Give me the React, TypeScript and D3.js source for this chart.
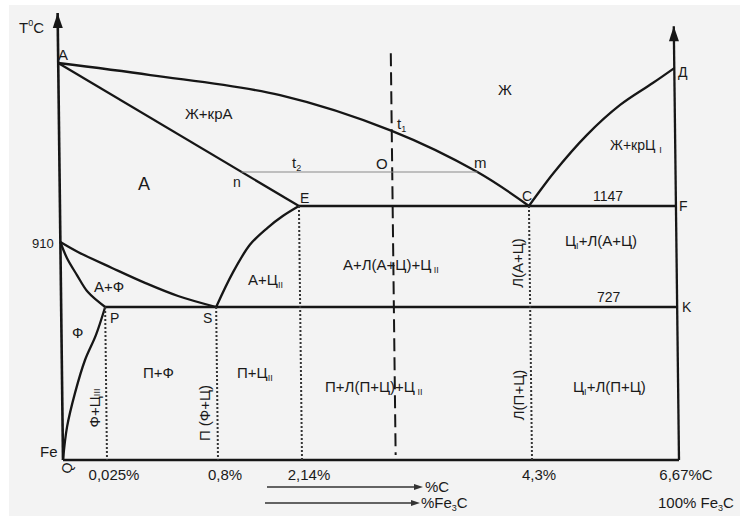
import React from 'react';
import * as d3 from 'd3';

type Pt = [number, number]; // [% C, T °C]

// the concentration axis of this schematic is not linear, so it is split at the key compositions
const carbonKnots = [0, 0.025, 0.8, 2.14, 4.3, 6.67];
const tempKnots = [20, 727, 910, 1147, 1539];

const carbonTicks = [0.025, 0.8, 2.14, 4.3, 6.67];
const carbonTickLabels = ['0,025%', '0,8%', '2,14%', '4,3%', '6,67%C'];

// lines of the diagram
const liquidusAC: Pt[] = [[0, 1539], [0.36, 1506], [1.86, 1451], [3.02, 1353], [3.82, 1240], [4.3, 1147]];
const liquidusDC: Pt[] = [[6.67, 1525], [6.32, 1484], [5.79, 1424], [5.25, 1342], [4.7, 1237], [4.43, 1177], [4.3, 1147]];
const solidusAE: Pt[] = [[0, 1539], [2.14, 1147]];
const solvusES: Pt[] = [[2.14, 1147], [1.88, 1081], [1.63, 1002], [1.35, 902], [1.07, 823], [0.8, 727]];
const lineGS: Pt[] = [[0, 910], [0.0099, 882], [0.076, 837], [0.305, 795], [0.535, 758], [0.8, 727]];
const lineGP: Pt[] = [[0, 910], [0.0036, 865], [0.0092, 817], [0.0153, 769], [0.025, 727]];
const linePQ: Pt[] = [[0.025, 727], [0.0196, 598], [0.0132, 482], [0.0073, 330], [0.0025, 172], [0, 20]];
const eutecticECF: Pt[] = [[2.14, 1147], [6.67, 1147]];
const eutectoidPSK: Pt[] = [[0.025, 727], [6.67, 727]];
const dottedLines: Pt[][] = [
    [[0.025, 727], [0.025, 20]],
    [[0.8, 727], [0.8, 20]],
    [[2.14, 1147], [2.14, 20]],
    [[4.3, 1147], [4.3, 20]],
];
const alloy1: Pt[] = [[3.02, 1566], [3.02, 43]];
const tieLineT2: Pt[] = [[1.23, 1240], [3.82, 1240]];

const roomT = 20;
const leftAxisTop = 1676;
const rightAxisTop = 1640;
const maxCarbon = 6.67;

const font = 'Liberation Sans, Arial, sans-serif';
const ink = '#161616';

const Sub: React.FC<{ children: React.ReactNode }> = ({ children }) => (
    <tspan fontSize={9} dy={3}>{children}</tspan>
);

const App: React.FC = () => {
    const x = d3.scaleLinear().domain(carbonKnots).range([63, 107, 218, 302, 532, 679]);
    const y = d3.scaleLinear().domain(tempKnots).range([460, 307, 242, 206, 63]);
    const curve = d3.line<Pt>(d => x(d[0]), d => y(d[1])).curve(d3.curveCatmullRom.alpha(0.5));
    const straight = d3.line<Pt>(d => x(d[0]), d => y(d[1]));

    const arrowHead = (cx: number, cy: number) => `M${cx},${cy} L${cx - 5},${cy + 15} L${cx + 5},${cy + 15} Z`;
    const base = y(roomT);

    return (
        <svg width={740} height={516} style={{ position: 'absolute', left: 0, top: 0 }} fontFamily={font}>
            <rect width={740} height={516} fill="#fff" />
            <rect x={9} y={5} width={731} height={511} fill="#f3f3f3" />

            {/* the scan is slightly sheared, so the whole diagram leans a little */}
            <g transform={`translate(0,${base}) skewX(0.69) translate(0,${-base})`}>
                <g fill="none" stroke={ink} strokeWidth={2.3} strokeLinejoin="round">
                    <path d={straight([[0, roomT], [0, leftAxisTop]]) ?? ''} strokeWidth={2.6} />
                    <path d={straight([[maxCarbon, roomT], [maxCarbon, rightAxisTop]]) ?? ''} />
                    <path d={straight([[0, roomT], [maxCarbon, roomT]]) ?? ''} strokeWidth={2.6} />
                    <path d={curve(liquidusAC) ?? ''} />
                    <path d={curve(liquidusDC) ?? ''} />
                    <path d={straight(solidusAE) ?? ''} />
                    <path d={curve(solvusES) ?? ''} />
                    <path d={curve(lineGS) ?? ''} />
                    <path d={curve(lineGP) ?? ''} />
                    <path d={curve(linePQ) ?? ''} />
                    <path d={straight(eutecticECF) ?? ''} />
                    <path d={straight(eutectoidPSK) ?? ''} />
                </g>
                <g fill="none" stroke="#333" strokeWidth={2} strokeDasharray="2 2">
                    {dottedLines.map((l, i) => <path key={i} d={straight(l) ?? ''} />)}
                </g>
                <path d={straight(alloy1) ?? ''} fill="none" stroke={ink} strokeWidth={2} strokeDasharray="13 6" />
                <path d={straight(tieLineT2) ?? ''} fill="none" stroke="#8a8a8a" strokeWidth={1} />
                <path d={arrowHead(x(0), y(leftAxisTop))} fill={ink} />
                <path d={arrowHead(x(maxCarbon), y(rightAxisTop))} fill={ink} />
            </g>

            <g fill="#1a1a1a" fontSize={15}>
                <text x={19} y={33}>T<tspan fontSize={9} dy={-7}>0</tspan><tspan dy={7}>C</tspan></text>
                <text x={58} y={60} fontSize={15}>A</text>
                <text x={185} y={119}>Ж+крА</text>
                <text x={498} y={95}>Ж</text>
                <text x={397} y={129}>t<Sub>1</Sub></text>
                <text x={376} y={169}>O</text>
                <text x={474} y={168}>m</text>
                <text x={292} y={168}>t<Sub>2</Sub></text>
                <text x={233} y={187} fontSize={14}>n</text>
                <text x={300} y={203} fontSize={14}>E</text>
                <text x={138} y={190} fontSize={18}>A</text>
                <text x={522} y={201} fontSize={14}>C</text>
                <text x={593} y={201} fontSize={14}>1147</text>
                <text x={679} y={211} fontSize={14}>F</text>
                <text x={678} y={77} fontSize={14}>Д</text>
                <text x={610} y={150} fontSize={14}>Ж+крЦ <Sub>I</Sub></text>
                <text x={32} y={248} fontSize={13}>910</text>
                <text x={94} y={292}>A+Ф</text>
                <text x={248} y={285}>A+Ц<Sub>II</Sub></text>
                <text x={343} y={270}>A+Л(A+Ц)+Ц<Sub> II</Sub></text>
                <text x={565} y={246}>Ц<Sub>I</Sub><tspan dy={-3}>+Л(A+Ц)</tspan></text>
                <text x={597} y={302} fontSize={14}>727</text>
                <text x={682} y={312} fontSize={14}>K</text>
                <text x={72} y={338}>Ф</text>
                <text x={110} y={323} fontSize={14}>P</text>
                <text x={203} y={323} fontSize={14}>S</text>
                <text x={143} y={378}>П+Ф</text>
                <text x={237} y={378}>П+Ц<Sub>II</Sub></text>
                <text x={325} y={392}>П+Л(П+Ц)+Ц<Sub> II</Sub></text>
                <text x={573} y={392}>Ц<Sub>I</Sub><tspan dy={-3}>+Л(П+Ц)</tspan></text>
                <text x={40} y={457}>Fe</text>

                <g textAnchor="middle" dominantBaseline="central">
                    <text transform="translate(517,263) rotate(-90)">Л(A+Ц)</text>
                    <text transform="translate(518,395) rotate(-90)">Л(П+Ц)</text>
                    <text transform="translate(94,408) rotate(-90)">Ф+Ц<Sub>III</Sub></text>
                    <text transform="translate(204,413) rotate(-90)">П (Ф+Ц)</text>
                    <text transform="translate(67,468) rotate(-70)" fontSize={14}>Q</text>
                </g>

                {carbonTicks.map((c, i) => (
                    <text key={c} x={x(c) + 7} y={480} textAnchor="middle">{carbonTickLabels[i]}</text>
                ))}

                <text x={425} y={492}>%C</text>
                <text x={421} y={508}>%Fe<Sub>3</Sub><tspan dy={-3}>C</tspan></text>
                <text x={658} y={508}>100% Fe<Sub>3</Sub><tspan dy={-3}>C</tspan></text>
            </g>

            <g stroke="#333" strokeWidth={1.5}>
                <line x1={267} y1={487} x2={416} y2={487} />
                <line x1={265} y1={503} x2={413} y2={503} />
            </g>
            <g fill="#333">
                <path d="M423,487 L414,484 L414,490 Z" />
                <path d="M420,503 L411,500 L411,506 Z" />
            </g>
        </svg>
    );
};

export default App;
